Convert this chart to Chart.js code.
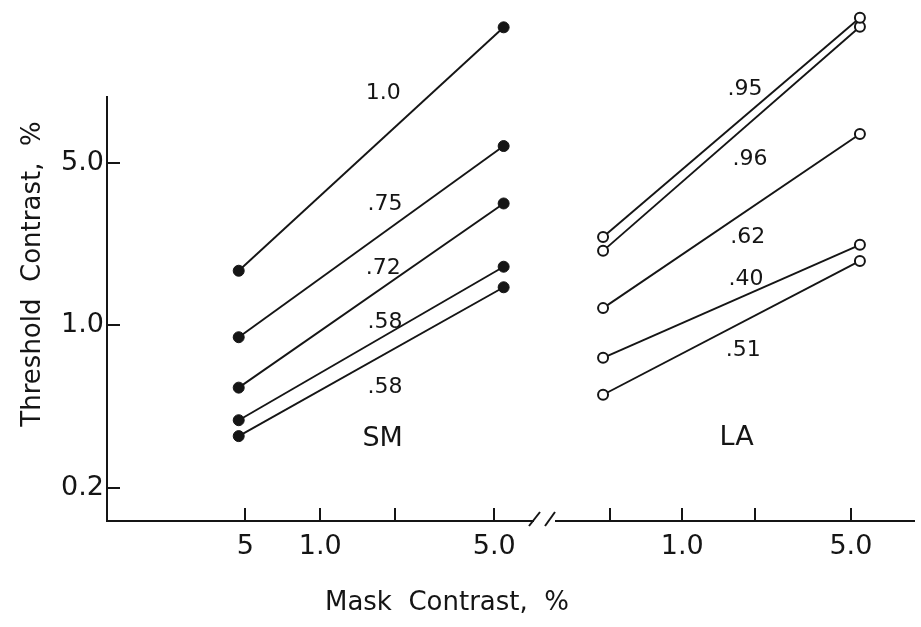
<!DOCTYPE html>
<html>
<head>
<meta charset="utf-8">
<script src="https://cdn.jsdelivr.net/npm/chart.js@4.4.1/dist/chart.umd.min.js"></script>
<style>
  html, body { margin: 0; padding: 0; background: #fff; }
  #wrap { position: relative; width: 921px; height: 627px; }
  #wrap canvas { position: absolute; top: 0; }
  #sm { left: 0; }
  #la { left: 540px; }
</style>
</head>
<body>
<div id="wrap">
  <canvas id="sm" width="921" height="627"></canvas>
  <canvas id="la" width="381" height="627"></canvas>
</div>
<script>
// mask contrast (%) of the two measured points on every line
const maskContrast = [0.47, 5.45];
// SM panel: threshold contrast (%) at the two mask contrasts, and slope labels
const smSlopes = ["1.0", ".75", ".72", ".58", ".58"];
const smThreshold = [[1.72, 19.2], [0.89, 5.92], [0.54, 3.35], [0.391, 1.79], [0.334, 1.46]];
// LA panel
const laSlopes = [".95", ".96", ".62", ".40", ".51"];
const laThreshold = [[2.41, 21.2], [2.10, 19.4], [1.19, 6.69], [0.727, 2.23], [0.504, 1.90]];
// axes
const xTicks = [0.5, 1, 2, 5];
const smTickLabels = ["5", "1.0", "", "5.0"];
const laTickLabels = ["", "1.0", "", "5.0"];
const yTicks = [0.2, 1, 5];
const yTickLabels = ["0.2", "1.0", "5.0"];
const yAxisTop = 9.69;   // the drawn y axis stops here, points go above it

const ink = "#151515";
const fontFam = "'DejaVu Sans', sans-serif";

//small ticks pointing into the plot, plus the short y axis line
const inwardTicks = {
  id: "inwardTicks",
  afterDraw(chart) {
    const ctx = chart.ctx, area = chart.chartArea;
    ctx.save();
    ctx.strokeStyle = ink;
    ctx.lineWidth = 2;
    const xs = chart.scales.x;
    xs.ticks.forEach(t => {
      const px = Math.round(xs.getPixelForValue(t.value));
      ctx.beginPath(); ctx.moveTo(px, area.bottom); ctx.lineTo(px, area.bottom - 13); ctx.stroke();
    });
    const ys = chart.scales.y;
    if (ys.options.display) {
      ys.ticks.forEach(t => {
        const py = Math.round(ys.getPixelForValue(t.value));
        ctx.beginPath(); ctx.moveTo(area.left, py); ctx.lineTo(area.left + 13, py); ctx.stroke();
      });
      ctx.beginPath();
      ctx.moveTo(area.left, area.bottom + 1);
      ctx.lineTo(area.left, Math.round(ys.getPixelForValue(yAxisTop)));
      ctx.stroke();
    }
    ctx.restore();
  }
};

//text placed at data coordinates (slope values, panel name)
const noteText = {
  id: "noteText",
  afterDatasetsDraw(chart, args, opts) {
    const ctx = chart.ctx;
    ctx.save();
    ctx.fillStyle = ink;
    ctx.textAlign = "center";
    ctx.textBaseline = "middle";
    (opts.items || []).forEach(it => {
      ctx.font = it.size + "px " + fontFam;
      ctx.fillText(it.text, chart.scales.x.getPixelForValue(it.x), chart.scales.y.getPixelForValue(it.y));
    });
    ctx.restore();
  }
};

//axis titles and the break mark, drawn once on the left canvas
const figureText = {
  id: "figureText",
  afterDraw(chart) {
    const ctx = chart.ctx, area = chart.chartArea;
    ctx.save();
    ctx.fillStyle = ink;
    ctx.font = "26px " + fontFam;
    ctx.textAlign = "center";
    ctx.textBaseline = "middle";
    ctx.fillText("Mask  Contrast,  %", 447, 603);
    ctx.translate(33, 274);
    ctx.rotate(-Math.PI / 2);
    ctx.fillText("Threshold  Contrast,  %", 0, 0);
    ctx.restore();
    // the "//" axis break
    ctx.save();
    ctx.strokeStyle = ink;
    ctx.lineWidth = 2;
    const b = area.bottom, r = area.right;
    ctx.beginPath(); ctx.moveTo(r - 4, b + 5); ctx.lineTo(r + 7, b - 9); ctx.stroke();
    ctx.beginPath(); ctx.moveTo(r + 12, b + 5); ctx.lineTo(r + 22, b - 9); ctx.stroke();
    ctx.restore();
  }
};

function makeSets(rows, filled) {
  return rows.map(r => ({
    data: maskContrast.map((m, i) => ({ x: m, y: r[i] })),
    borderColor: ink,
    borderWidth: 1.9,
    pointRadius: filled ? 5.5 : 5,
    pointBorderWidth: filled ? 1 : 2,
    pointBackgroundColor: filled ? ink : "#fff",
    pointBorderColor: ink,
    clip: false,
    tension: 0
  }));
}

function xScale(min, max, labels) {
  return {
    type: "logarithmic",
    min: min,
    max: max,
    afterBuildTicks: s => { s.ticks = xTicks.map(v => ({ value: v })); },
    afterFit: s => { s.height = 106; },
    grid: { display: false, drawTicks: false },
    border: { display: true, color: ink, width: 2 },
    ticks: {
      autoSkip: false, maxRotation: 0, padding: 10, color: ink,
      font: { family: fontFam, size: 27 },
      callback: (v, i) => labels[i]
    }
  };
}

// y range reaches above the drawn axis so the top points stay visible
const yScaleBase = {
  type: "logarithmic",
  min: 0.144,
  max: 23.6,
  afterBuildTicks: s => { s.ticks = yTicks.map(v => ({ value: v })); },
  grid: { display: false, drawTicks: false },
  border: { display: false },
  ticks: {
    autoSkip: false, padding: 3, color: ink,
    font: { family: fontFam, size: 27 },
    callback: (v, i) => yTickLabels[i]
  }
};

const smLabels = smSlopes.map((t, i) => ({ text: t, size: 22, x: [1.79, 1.82, 1.79, 1.82, 1.82][i], y: [10.0, 3.34, 1.77, 1.03, 0.542][i] }));
smLabels.push({ text: "SM", size: 27, x: 1.78, y: 0.324 });
const laLabels = laSlopes.map((t, i) => ({ text: t, size: 22, x: [1.82, 1.91, 1.87, 1.84, 1.79][i], y: [10.4, 5.21, 2.41, 1.59, 0.781][i] }));
laLabels.push({ text: "LA", size: 27, x: 1.68, y: 0.327 });

new Chart(document.getElementById("sm"), {
  type: "line",
  data: { datasets: makeSets(smThreshold, true) },
  plugins: [inwardTicks, noteText, figureText],
  options: {
    responsive: false,
    devicePixelRatio: 1,
    animation: false,
    layout: { padding: { top: 5, left: 0, right: 388, bottom: 0 } },
    scales: {
      x: xScale(0.139, 7.15, smTickLabels),
      y: Object.assign({}, yScaleBase, {
        afterFit: s => { s.width = 107; s.paddingTop = 0; s.paddingBottom = 0; }
      })
    },
    plugins: {
      legend: { display: false },
      tooltip: { enabled: false },
      noteText: { items: smLabels }
    }
  }
});

new Chart(document.getElementById("la"), {
  type: "line",
  data: { datasets: makeSets(laThreshold, false) },
  plugins: [inwardTicks, noteText],
  options: {
    responsive: false,
    devicePixelRatio: 1,
    animation: false,
    layout: { padding: { top: 5, left: 16, right: 0, bottom: 0 } },
    scales: {
      x: xScale(0.310, 9.13, laTickLabels),
      y: Object.assign({}, yScaleBase, { display: false })
    },
    plugins: {
      legend: { display: false },
      tooltip: { enabled: false },
      noteText: { items: laLabels }
    }
  }
});
</script>
</body>
</html>
